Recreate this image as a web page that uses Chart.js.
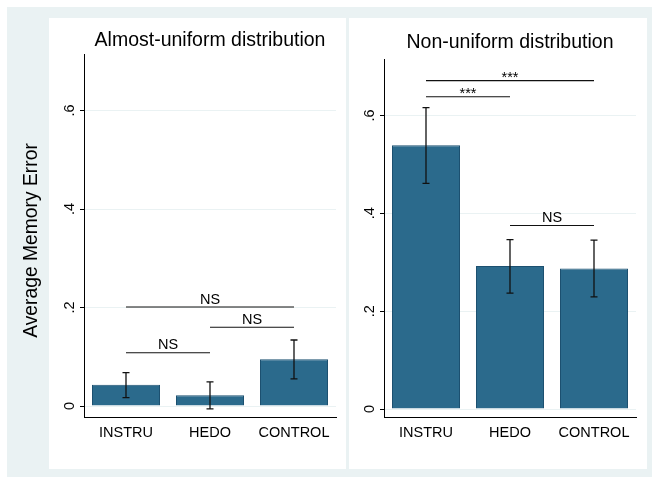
<!DOCTYPE html>
<html>
<head>
<meta charset="utf-8">
<script src="https://cdn.jsdelivr.net/npm/chart.js@4.4.1/dist/chart.umd.min.js"></script>
<style>
  html, body { margin: 0; padding: 0; background: #ffffff; width: 652px; height: 477px; overflow: hidden; }
  #bg { position: absolute; left: 7px; top: 7px; width: 645px; height: 470px; background: #eaf2f3; }
  #c1 { position: absolute; left: 7px; top: 7px; }
  #c2 { position: absolute; left: 347px; top: 7px; }
</style>
</head>
<body>
<div id="bg"></div>
<canvas id="c1" width="340" height="470"></canvas>
<canvas id="c2" width="305" height="470"></canvas>
<script>
// ---------- data ----------
const categories = ['INSTRU', 'HEDO', 'CONTROL'];
const yTickValues = [0, 0.2, 0.4, 0.6];
const yTickLabels = ['0', '.2', '.4', '.6'];
const yAxisTitle = 'Average Memory Error';
const uniformTitle = 'Almost-uniform distribution';
const nonUniformTitle = 'Non-uniform distribution';

const uniformMean = [0.043, 0.022, 0.095];
const uniformLow  = [0.017, -0.006, 0.055];
const uniformHigh = [0.068, 0.049, 0.134];

const nonUniformMean = [0.539, 0.292, 0.287];
const nonUniformLow  = [0.461, 0.237, 0.229];
const nonUniformHigh = [0.616, 0.346, 0.345];

// significance brackets: from category index, to category index, height, label
const uniformSigFrom  = [0, 1, 0];
const uniformSigTo    = [2, 2, 1];
const uniformSigY     = [0.201, 0.160, 0.108];
const uniformSigLabel = ['NS', 'NS', 'NS'];

const nonUniformSigFrom  = [0, 0, 1];
const nonUniformSigTo    = [2, 1, 2];
const nonUniformSigY     = [0.671, 0.638, 0.375];
const nonUniformSigLabel = ['***', '***', 'NS'];

// ---------- style ----------
const FONT = "'Liberation Sans', Arial, Helvetica, sans-serif";
const BAR = '#2b6a8c';
const BAR_EDGE = '#1c5070';
const GRID = '#eaf2f3';
const INK = '#000000';

const panelBg = {
  id: 'panelBg',
  beforeDraw(chart, args, o) {
    const ctx = chart.ctx;
    ctx.save();
    ctx.fillStyle = '#ffffff';
    ctx.fillRect(o.x, o.y, o.w, o.h);
    ctx.restore();
  }
};

const errorBars = {
  id: 'errorBars',
  afterDatasetsDraw(chart, args, o) {
    const ctx = chart.ctx;
    const meta = chart.getDatasetMeta(0);
    const ys = chart.scales.y;
    ctx.save();
    ctx.strokeStyle = '#111111';
    ctx.lineWidth = 1.3;
    meta.data.forEach((bar, i) => {
      const x = bar.x;
      const yl = ys.getPixelForValue(o.low[i]);
      const yh = ys.getPixelForValue(o.high[i]);
      ctx.beginPath();
      ctx.moveTo(x, yl); ctx.lineTo(x, yh);
      ctx.moveTo(x - 3.5, yl); ctx.lineTo(x + 3.5, yl);
      ctx.moveTo(x - 3.5, yh); ctx.lineTo(x + 3.5, yh);
      ctx.stroke();
    });
    ctx.restore();
  }
};

const brackets = {
  id: 'brackets',
  afterDatasetsDraw(chart, args, o) {
    const ctx = chart.ctx;
    const meta = chart.getDatasetMeta(0);
    const ys = chart.scales.y;
    ctx.save();
    ctx.strokeStyle = '#111111';
    ctx.fillStyle = INK;
    ctx.lineWidth = 1.1;
    ctx.font = '14.5px ' + FONT;
    ctx.textAlign = 'center';
    ctx.textBaseline = 'alphabetic';
    o.from.forEach((f, i) => {
      const x1 = meta.data[f].x;
      const x2 = meta.data[o.to[i]].x;
      const y = ys.getPixelForValue(o.y[i]);
      ctx.beginPath();
      ctx.moveTo(x1, y); ctx.lineTo(x2, y);
      ctx.stroke();
      const lbl = o.label[i];
      const dy = lbl.indexOf('*') >= 0 ? 1 : -3.5;
      ctx.fillText(lbl, (x1 + x2) / 2, y + dy);
    });
    ctx.restore();
  }
};

const yTitle = {
  id: 'yTitle',
  afterDraw(chart, args, o) {
    if (!o.text) return;
    const ctx = chart.ctx;
    ctx.save();
    ctx.translate(o.x, o.y);
    ctx.rotate(-Math.PI / 2);
    ctx.fillStyle = INK;
    ctx.font = '19.3px ' + FONT;
    ctx.textAlign = 'center';
    ctx.textBaseline = 'middle';
    ctx.fillText(o.text, 0, 0);
    ctx.restore();
  }
};

function makeChart(id, c) {
  return new Chart(document.getElementById(id), {
    type: 'bar',
    data: {
      labels: categories,
      datasets: [{
        data: c.mean,
        backgroundColor: BAR,
        borderColor: BAR_EDGE,
        borderWidth: 1,
        barPercentage: 0.81,
        categoryPercentage: 1
      }]
    },
    options: {
      responsive: false,
      animation: false,
      devicePixelRatio: 1,
      layout: { padding: { left: 0, right: c.padRight, top: 0, bottom: 0 } },
      plugins: {
        legend: { display: false },
        tooltip: { enabled: false },
        title: {
          display: true,
          text: c.title,
          fullSize: false,
          color: INK,
          font: { family: FONT, size: 19.5, weight: 'normal', lineHeight: 1.2 },
          padding: { top: c.titleTop, bottom: c.titleBottom }
        },
        panelBg: c.panel,
        errorBars: { low: c.low, high: c.high },
        brackets: { from: c.sigFrom, to: c.sigTo, y: c.sigY, label: c.sigLabel },
        yTitle: c.yTitle || {}
      },
      scales: {
        x: {
          grid: { display: false, drawTicks: false },
          border: { display: true, color: INK, width: 1 },
          ticks: { color: INK, font: { family: FONT, size: 14.5 }, padding: 7 },
          afterFit(s) { s.height = 60; }
        },
        y: {
          min: c.min,
          max: c.max,
          bounds: 'data',
          afterBuildTicks(s) { s.ticks = yTickValues.map(v => ({ value: v })); },
          ticks: {
            minRotation: 90, maxRotation: 90,
            crossAlign: 'center',
            padding: 4,
            color: INK,
            font: { family: FONT, size: 14.5 },
            callback: (v, i) => yTickLabels[i]
          },
          grid: { color: GRID, lineWidth: 1, drawTicks: true, tickLength: 4, tickColor: INK, tickWidth: 1 },
          border: { display: true, color: INK, width: 1 },
          afterFit(s) { s.width = c.yWidth; }
        }
      }
    },
    plugins: [panelBg, errorBars, brackets, yTitle]
  });
}

makeChart('c1', {
  title: uniformTitle,
  mean: uniformMean, low: uniformLow, high: uniformHigh,
  sigFrom: uniformSigFrom, sigTo: uniformSigTo, sigY: uniformSigY, sigLabel: uniformSigLabel,
  min: -0.0223, max: 0.7135,
  yWidth: 77, padRight: 11, titleTop: 21.7, titleBottom: 2.5,
  panel: { x: 42, y: 11, w: 297, h: 451 },
  yTitle: { text: yAxisTitle, x: 24.2, y: 233.5 }
});

makeChart('c2', {
  title: nonUniformTitle,
  mean: nonUniformMean, low: nonUniformLow, high: nonUniformHigh,
  sigFrom: nonUniformSigFrom, sigTo: nonUniformSigTo, sigY: nonUniformSigY, sigLabel: nonUniformSigLabel,
  min: -0.0163, max: 0.714,
  yWidth: 37, padRight: 16, titleTop: 24, titleBottom: 5.2,
  panel: { x: 2, y: 11, w: 298, h: 451 }
});
</script>
</body>
</html>
